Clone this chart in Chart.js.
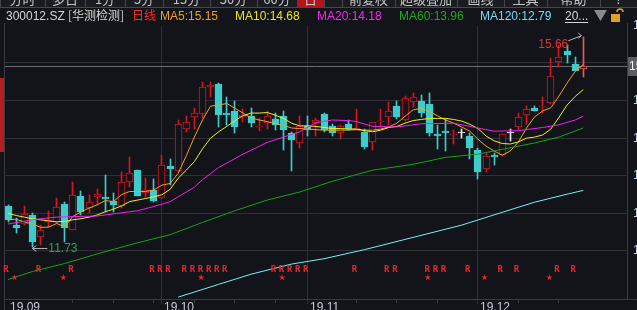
<!DOCTYPE html>
<html>
<head>
<meta charset="utf-8">
<script src="https://cdn.jsdelivr.net/npm/chart.js@4/dist/chart.umd.min.js"></script>
<style>
  html, body { margin: 0; padding: 0; background: #131419; }
  canvas { display: block; }
</style>
</head>
<body>
<canvas id="kline" width="637" height="310"></canvas>
<script>
// daily candles, 300012.SZ, 2019-09 .. 2019-12
const opens  = [12.49,12.14,12.17,12.33,11.91,12.19,12.20,12.54,12.05,12.69,12.46,12.66,12.66,12.59,12.49,12.95,13.17,12.74,12.80,12.64,
                13.25,13.16,13.95,14.17,14.22,14.73,14.79,14.25,14.28,14.16,14.19,13.98,14.06,14.13,14.19,13.87,13.67,14.00,14.05,14.22,
                13.99,13.87,14.04,13.93,13.89,13.69,14.08,14.17,14.37,14.11,14.45,14.47,14.41,13.85,13.91,13.82,13.86,13.81,13.55,13.19,
                13.45,13.45,13.86,13.97,14.20,14.33,14.35,14.42,15.20,15.40,15.16,15.06];
const highs  = [12.52,12.27,12.50,12.37,12.14,12.41,12.64,12.58,12.94,12.77,12.71,12.81,13.08,12.74,13.14,13.41,13.17,13.02,13.00,13.45,
                13.37,14.11,14.19,14.33,14.83,14.83,14.81,14.55,14.47,14.31,14.33,14.14,14.27,14.24,14.27,13.89,14.19,14.19,14.14,14.24,
                14.04,14.02,14.11,14.32,13.95,14.07,14.31,14.45,14.47,14.56,14.62,14.58,14.62,14.02,14.12,13.92,13.95,13.86,13.58,13.49,
                13.49,13.84,13.95,14.25,14.37,14.37,14.54,15.27,15.52,15.52,15.29,15.66];
const lows   = [12.20,11.99,12.14,11.73,11.77,12.10,12.18,11.83,12.04,12.33,12.36,12.52,12.39,12.39,12.47,12.86,12.69,12.67,12.58,12.64,
                12.89,13.14,13.89,13.95,14.14,14.55,13.98,14.02,13.87,14.08,13.97,13.91,13.95,13.92,13.55,13.16,13.58,13.81,13.81,13.89,
                13.81,13.75,13.92,13.92,13.57,13.55,13.99,14.02,14.12,14.10,14.35,14.16,13.81,13.56,13.52,13.66,13.77,13.37,13.00,13.13,
                13.27,13.44,13.72,13.92,14.04,14.27,14.24,14.41,15.11,15.17,15.02,14.91];
const closes = [12.24,12.09,12.35,11.83,12.05,12.24,12.48,12.08,12.70,12.39,12.57,12.72,12.63,12.52,12.94,13.11,12.69,12.79,12.59,13.26,
                13.20,14.04,14.07,14.24,14.72,14.77,14.20,14.20,13.97,14.20,14.06,14.00,14.19,14.02,13.92,13.74,13.99,13.92,14.11,13.92,
                13.86,13.99,13.95,13.96,13.61,14.07,14.10,14.28,14.16,14.52,14.54,14.25,13.87,13.81,13.86,13.85,13.86,13.58,13.14,13.44,
                13.42,13.84,13.86,14.16,14.31,14.28,14.37,14.94,15.30,15.32,15.03,15.12];

// moving averages
const ma5  = [12.24,12.25,12.20,12.16,12.10,12.10,12.17,12.11,12.30,12.39,12.46,12.52,12.60,12.58,12.71,12.77,12.77,12.77,12.80,12.89,
              12.92,13.11,13.44,13.79,14.11,14.37,14.39,14.42,14.33,14.24,14.15,14.11,14.08,14.04,14.01,13.96,13.95,13.94,13.93,13.92,
              13.92,13.92,13.92,13.93,13.92,13.92,13.94,13.98,14.05,14.18,14.30,14.33,14.27,14.19,14.11,14.05,13.98,13.90,13.75,13.62,
              13.53,13.45,13.53,13.70,13.96,14.17,14.28,14.34,14.56,14.80,15.02,15.15];
const ma10 = [12.36,12.32,12.29,12.26,12.24,12.22,12.20,12.21,12.24,12.26,12.29,12.33,12.39,12.44,12.50,12.58,12.61,12.64,12.67,12.71,
              12.81,13.02,13.17,13.33,13.57,13.77,13.89,13.99,14.10,14.19,14.24,14.24,14.25,14.20,14.14,14.05,14.00,14.00,13.99,13.97,
              13.95,13.95,13.94,13.94,13.91,13.89,13.92,13.97,13.99,14.05,14.10,14.12,14.14,14.14,14.14,14.12,14.09,14.03,13.95,13.81,
              13.72,13.67,13.66,13.70,13.77,13.79,13.83,13.94,14.16,14.39,14.55,14.68];
const ma20Idx = [0,3,6,8,11,13,16,18,20,21,23,24,26,29,32,34,36,38,40,42,43,45,48,51,55,58,60,63,66,68,70,71];
const ma20    = [12.16,12.24,12.29,12.30,12.31,12.35,12.41,12.49,12.58,12.67,12.85,12.99,13.22,13.47,13.69,13.79,13.89,14.06,14.11,14.10,
                 14.08,13.99,13.98,14.04,14.05,13.96,13.90,13.91,13.97,14.02,14.11,14.18];
const ma60Idx = [0,3,7,11,16,20,24,28,32,36,40,45,50,54,58,61,65,68,71];
const ma60    = [11.12,11.27,11.42,11.60,11.81,11.96,12.19,12.41,12.61,12.76,12.96,13.17,13.28,13.41,13.47,13.56,13.68,13.79,13.96];
const ma120Idx = [21,26,30,35,39,44,50,56,61,65,69,71];
const ma120    = [10.79,11.03,11.22,11.41,11.51,11.68,11.91,12.14,12.38,12.57,12.72,12.79];

// axes
const priceTicks = [15.89, 15.20, 14.49, 13.78, 13.08, 12.37, 11.67];
const monthIdx = [0, 19, 37, 58];
const monthLabels = ['19.09', '19.10', '19.11', '19.12'];
const weekTickIdx = [8, 13, 18, 23, 28, 33, 43, 48, 53, 63, 68];

// signal markers under the candles
const rSignalIdx = [0,4,8,18,19,20,22,23,24,25,26,27,33,34,35,36,37,43,47,48,52,53,54,57,61,63,68,70];
const starSignalIdx = [1,7,24,34,52,59,67];

const tabLabels = ['分时','多日','1分','5分','15分','30分','60分','日','','前复权','超级叠加','画线','工具','帮助','?'];
const tabEdges  = [0,45,85,125,163,210,257,297,324,342,395,457,504,547,600,637];

const BG = '#131419';
const UP = '#d8141c';
const DOWN = '#3ccccc';
const DOJI = '#e8e8e8';
const LAST = '#e65a5a';
const FONT = '"Liberation Sans", Arial, "Noto Sans CJK SC", sans-serif';
const CJK = '"Noto Sans CJK SC", "Liberation Sans", sans-serif';

const idx = closes.map((_, i) => i);
const last = closes.length - 1;

function candleColor(i) {
    if (i === last) return LAST;
    if (closes[i] > opens[i]) return UP;
    if (closes[i] < opens[i]) return DOWN;
    return DOJI;
}

function lineSet(xs, ys, color) {
    return {
        type: 'line',
        data: xs.map((x, k) => ({ x: x, y: ys[k] })),
        borderColor: color,
        borderWidth: 1,
        pointRadius: 0,
        tension: 0,
        order: 1
    };
}

function seg(ctx, x1, y1, x2, y2) {
    ctx.beginPath();
    ctx.moveTo(x1, y1);
    ctx.lineTo(x2, y2);
    ctx.stroke();
}

// snap candle bars to whole pixels so wicks and borders stay sharp
const snapBars = {
    id: 'snapBars',
    afterDatasetsUpdate(chart) {
        [0, 1].forEach(d => {
            chart.getDatasetMeta(d).data.forEach(el => {
                el.x = Math.floor(el.x) + 0.5;
                el.y = Math.round(el.y);
                el.base = Math.round(el.base);
            });
        });
    }
};

const chrome = {
    id: 'chrome',
    beforeDraw(chart) {
        const { ctx, chartArea: a, scales: { x, y } } = chart;
        ctx.save();
        ctx.fillStyle = BG;
        ctx.fillRect(0, 0, chart.width, chart.height);
        ctx.lineWidth = 1;
        ctx.strokeStyle = '#2f3035';
        priceTicks.forEach(v => {
            const py = Math.round(y.getPixelForValue(v)) + 0.5;
            if (py > a.top) seg(ctx, a.left, py, a.right, py);
        });
        monthIdx.slice(1).forEach(i => {
            const px = Math.floor(x.getPixelForValue(i)) + 0.5;
            seg(ctx, px, a.top, px, a.bottom + 5);
        });
        ctx.restore();
    },
    beforeDatasetsDraw(chart) {
        const { ctx, chartArea: a, scales: { y } } = chart;
        ctx.save();
        ctx.strokeStyle = '#6c6c70';
        const py = Math.round(y.getPixelForValue(closes[last])) + 0.5;
        seg(ctx, a.left, py, a.right, py);
        ctx.restore();
    },
    afterDraw(chart) {
        const { ctx, chartArea: a, scales: { x, y } } = chart;
        ctx.save();
        ctx.lineWidth = 1;

        // tab strip (cut by the top edge)
        ctx.fillStyle = '#1b1c21';
        ctx.fillRect(0, 0, chart.width, 7);
        ctx.strokeStyle = '#45464b';
        tabEdges.forEach(e => seg(ctx, e + 0.5, 0, e + 0.5, 7));
        seg(ctx, 0, 7.5, chart.width, 7.5);
        ctx.fillStyle = '#b0161c';
        ctx.fillRect(tabEdges[7] + 1, 0, tabEdges[8] - tabEdges[7] - 1, 7);
        ctx.font = '13px ' + CJK;
        ctx.textAlign = 'center';
        ctx.textBaseline = 'alphabetic';
        ctx.fillStyle = '#c4c4c4';
        tabLabels.forEach((t, k) => {
            ctx.fillText(t, (tabEdges[k] + tabEdges[k + 1]) / 2, 4);
        });

        // header line
        ctx.textAlign = 'left';
        const head = [
            ['300012.SZ', 6, '#d6d6d6', FONT],
            ['[华测检测]', 68, '#d6d6d6', CJK],
            ['日线', 132, '#ff2a2a', CJK],
            ['MA5:' + ma5[last].toFixed(2), 160, '#e8a21c', FONT],
            ['MA10:' + ma10[last].toFixed(2), 235, '#e6e61a', FONT],
            ['MA20:' + ma20[ma20.length - 1].toFixed(2), 317, '#f02cf0', FONT],
            ['MA60:' + ma60[ma60.length - 1].toFixed(2), 399, '#1ea81e', FONT],
            ['MA120:' + ma120[ma120.length - 1].toFixed(2), 480, '#6fdcf0', FONT],
            ['20...', 565, '#d6d6d6', FONT]
        ];
        head.forEach(([t, hx, c, f]) => {
            ctx.font = '12px ' + f;
            ctx.fillStyle = c;
            ctx.fillText(t, hx, 20);
        });
        ctx.strokeStyle = '#d6d6d6';
        seg(ctx, 565, 22.5, 588, 22.5);
        ctx.fillStyle = '#8a8a8a';
        ctx.beginPath();
        ctx.moveTo(594, 10); ctx.lineTo(607, 10); ctx.lineTo(600.5, 21); ctx.closePath();
        ctx.fill();
        ctx.fillStyle = '#e0a020';
        ctx.fillRect(611, 14, 9, 8);
        ctx.strokeStyle = '#e0a020';
        ctx.lineWidth = 1.5;
        ctx.beginPath();
        ctx.arc(620, 12, 3, Math.PI, 0);
        ctx.stroke();
        ctx.lineWidth = 1;

        // frame
        ctx.strokeStyle = '#3a3b40';
        seg(ctx, 4.5, 23, 4.5, chart.height);
        seg(ctx, a.right + 0.5, 23, a.right + 0.5, a.bottom);
        seg(ctx, a.left, a.bottom + 0.5, chart.width, a.bottom + 0.5);
        ctx.fillStyle = '#b41e1e';
        ctx.fillRect(0, 78, 4, 74);

        // time axis
        weekTickIdx.forEach(i => {
            const px = Math.floor(x.getPixelForValue(i)) + 0.5;
            seg(ctx, px, a.bottom, px, a.bottom + 4);
        });
        ctx.font = '12px ' + FONT;
        ctx.fillStyle = '#c2cad6';
        monthIdx.forEach((i, k) => {
            ctx.fillText(monthLabels[k], Math.round(x.getPixelForValue(i)) + 2, a.bottom + 12);
        });

        // price axis labels (cut by the right edge)
        ctx.textBaseline = 'middle';
        ctx.fillStyle = '#c8d4e6';
        priceTicks.forEach(v => {
            ctx.fillText(v.toFixed(2), a.right + 6, Math.round(y.getPixelForValue(v)) + 0.5);
        });
        const cy = Math.round(y.getPixelForValue(closes[last]));
        ctx.fillStyle = '#5c5d62';
        ctx.fillRect(a.right + 1, cy - 9, 12, 19);
        ctx.fillStyle = '#ffffff';
        ctx.fillText(closes[last].toFixed(2), a.right + 2, cy + 1);

        // R / star signals
        ctx.textAlign = 'center';
        ctx.font = 'bold 9px "DejaVu Sans Mono", monospace';
        ctx.fillStyle = '#e8262e';
        rSignalIdx.forEach(i => ctx.fillText('R', x.getPixelForValue(i) - 2, a.bottom - 29));
        ctx.font = '8px "DejaVu Sans", sans-serif';
        starSignalIdx.forEach(i => ctx.fillText('★', x.getPixelForValue(i) - 1.5, a.bottom - 21));

        // highest / lowest marks
        let hi = 0, lo = 0;
        highs.forEach((v, i) => { if (v > highs[hi]) hi = i; });
        lows.forEach((v, i) => { if (v < lows[lo]) lo = i; });
        const hx = x.getPixelForValue(hi), hy = y.getPixelForValue(highs[hi]);
        ctx.strokeStyle = '#b8b8b8';
        seg(ctx, hx - 15, hy + 3.5, hx - 2, hy - 1.5);
        seg(ctx, hx - 5, hy - 4.5, hx - 2, hy - 1.5);
        seg(ctx, hx - 5, hy + 1, hx - 2, hy - 1.5);
        ctx.font = '12px ' + FONT;
        ctx.textAlign = 'right';
        ctx.textBaseline = 'alphabetic';
        ctx.fillStyle = '#dc3434';
        ctx.fillText(highs[hi].toFixed(2), hx - 15, hy + 11);

        const lx = x.getPixelForValue(lo), ly = y.getPixelForValue(lows[lo]) + 1.5;
        seg(ctx, lx, ly, lx + 15, ly);
        seg(ctx, lx, ly, lx + 4, ly - 3);
        seg(ctx, lx, ly, lx + 4, ly + 3);
        ctx.textAlign = 'left';
        ctx.textBaseline = 'middle';
        ctx.fillStyle = '#22a84a';
        ctx.fillText(lows[lo].toFixed(2), lx + 16, ly + 0.5);
        ctx.restore();
    }
};

new Chart(document.getElementById('kline'), {
    type: 'bar',
    data: {
        datasets: [
            {
                type: 'bar',
                data: idx.map(i => ({ x: i, y: [lows[i], highs[i]] })),
                backgroundColor: c => candleColor(c.dataIndex),
                barThickness: 1,
                grouped: false,
                order: 10
            },
            {
                type: 'bar',
                data: idx.map(i => ({ x: i, y: [opens[i], closes[i]] })),
                backgroundColor: c => closes[c.dataIndex] > opens[c.dataIndex] ? BG : candleColor(c.dataIndex),
                borderColor: c => candleColor(c.dataIndex),
                borderWidth: 1,
                borderSkipped: false,
                barThickness: 7,
                minBarLength: 1,
                grouped: false,
                order: 9
            },
            lineSet(ma120Idx, ma120, '#78eef0'),
            lineSet(ma60Idx, ma60, '#12a412'),
            lineSet(ma20Idx, ma20, '#f020f0'),
            lineSet(idx, ma10, '#f0f01a'),
            lineSet(idx, ma5, '#f5a01e')
        ]
    },
    options: {
        responsive: false,
        devicePixelRatio: 1,
        animation: false,
        events: [],
        layout: { padding: { left: 4, right: 10, top: 26, bottom: 11 } },
        plugins: { legend: { display: false }, tooltip: { enabled: false } },
        scales: {
            x: { type: 'linear', min: -0.5, max: 76.4, offset: false, display: false },
            y: { min: 10.755, max: 15.872, display: false }
        }
    },
    plugins: [snapBars, chrome]
});
</script>
</body>
</html>
